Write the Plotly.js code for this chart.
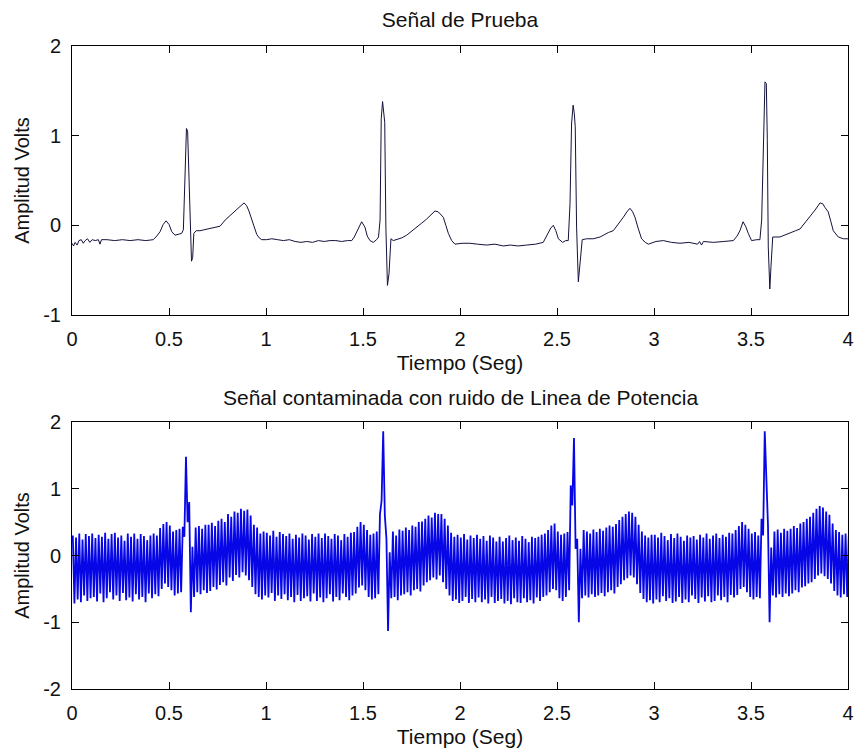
<!DOCTYPE html>
<html>
<head>
<meta charset="utf-8">
<script src="https://cdn.plot.ly/plotly-3.0.1.min.js"></script>
<style>html,body{margin:0;padding:0;background:#fff;}</style>
</head>
<body>
<div id="grafica" style="width:856px;height:752px;"></div>
<script>
// ---- Señal de Prueba (ECG) : tiempo (s) y amplitud (V) ----
const tiempoPrueba = [
0.000,0.008,0.016,0.026,0.036,0.048,0.058,0.068,0.080,0.092,0.104,0.120,0.136,0.144,0.152,0.180,0.220,0.260,0.300,0.340,0.380,
0.419,0.437,0.454,0.470,0.485,0.500,0.514,0.531,0.548,0.565,0.574,0.577,0.584,0.590,0.596,0.600,0.606,0.611,0.616,0.622,0.628,
0.640,0.660,0.680,0.700,0.720,0.740,0.763,0.790,0.814,0.840,0.866,0.887,0.900,0.912,0.926,0.940,0.952,0.965,0.978,
1.003,1.030,1.060,1.090,1.120,1.150,1.180,1.210,1.240,1.270,1.300,1.330,1.360,1.390,1.420,
1.442,1.455,1.471,1.493,1.510,1.522,1.536,1.553,1.570,1.580,1.588,1.594,1.601,1.606,1.612,1.618,1.626,1.634,1.644,1.656,
1.673,1.700,1.725,1.750,1.777,1.800,1.828,1.854,1.871,1.888,1.902,1.914,1.927,1.940,1.957,1.974,
2.010,2.051,2.090,2.137,2.180,2.223,2.260,2.300,2.343,2.390,2.429,
2.455,2.468,2.481,2.494,2.507,2.529,2.545,2.558,2.567,2.575,2.583,2.589,2.594,2.601,2.610,2.618,2.630,2.653,
2.687,2.722,2.739,2.765,2.790,2.815,2.842,2.860,2.876,2.890,2.902,2.918,2.936,2.955,2.971,
3.010,3.048,3.090,3.134,3.180,3.225,3.235,3.245,3.255,3.306,3.360,3.409,
3.428,3.443,3.459,3.472,3.486,3.503,3.530,3.546,3.555,3.564,3.572,3.579,3.584,3.589,3.597,3.603,3.612,
3.649,3.675,3.701,3.730,3.753,3.780,3.804,3.830,3.856,3.870,3.881,3.898,3.912,3.924,3.950,3.976,4.000
];
const senalPrueba = [
-0.20,-0.23,-0.19,-0.22,-0.17,-0.16,-0.20,-0.17,-0.15,-0.19,-0.16,-0.17,-0.16,-0.21,-0.16,-0.16,-0.17,-0.16,-0.17,-0.16,-0.17,
-0.16,-0.12,-0.07,0.01,0.05,0.01,-0.07,-0.11,-0.10,-0.09,-0.05,0.19,0.72,1.08,1.05,0.72,0.30,-0.10,-0.40,-0.36,-0.09,
-0.06,-0.06,-0.05,-0.04,-0.03,-0.02,-0.01,0.06,0.11,0.16,0.21,0.25,0.22,0.16,0.06,-0.04,-0.10,-0.14,-0.16,
-0.16,-0.15,-0.16,-0.17,-0.16,-0.18,-0.19,-0.18,-0.19,-0.17,-0.18,-0.17,-0.17,-0.18,-0.17,
-0.17,-0.13,-0.05,0.04,-0.02,-0.12,-0.17,-0.19,-0.16,-0.13,0.06,1.19,1.38,1.30,1.15,-0.02,-0.67,-0.54,-0.15,-0.17,
-0.16,-0.14,-0.11,-0.07,-0.02,0.02,0.07,0.12,0.16,0.15,0.12,0.09,0.00,-0.09,-0.17,-0.21,
-0.20,-0.20,-0.21,-0.22,-0.21,-0.23,-0.22,-0.23,-0.22,-0.21,-0.19,
-0.09,-0.03,0.00,-0.06,-0.15,-0.19,-0.17,-0.17,0.24,1.13,1.34,1.25,1.10,-0.02,-0.63,-0.46,-0.16,-0.15,
-0.15,-0.13,-0.11,-0.08,-0.06,0.01,0.09,0.15,0.19,0.15,0.09,-0.03,-0.15,-0.19,-0.21,
-0.18,-0.17,-0.19,-0.20,-0.19,-0.21,-0.18,-0.22,-0.18,-0.19,-0.18,-0.17,
-0.12,-0.06,0.04,-0.01,-0.09,-0.17,-0.16,-0.16,0.06,0.87,1.60,1.58,0.95,-0.24,-0.71,-0.46,-0.13,
-0.13,-0.11,-0.09,-0.06,-0.04,0.03,0.09,0.17,0.25,0.24,0.20,0.15,0.04,-0.06,-0.13,-0.15,-0.15
];

const frecuenciaRed = 60;
const picosSuperiores = [
0.30,0.27,0.33,0.24,0.32,0.29, 0.33,0.26,0.31,0.28,0.34,0.25, 0.32,0.34,0.27,0.30,0.22,0.33, 0.28,0.33,0.25,0.32,0.29,0.23,
0.30,0.33,0.30,0.41,0.47,0.50, 0.45,0.36,0.38,0.40,0.43,1.48, 0.80,0.13,0.42,0.44,0.40,0.46, 0.46,0.49,0.44,0.52,0.55,0.50,
0.62,0.58,0.66,0.64,0.70,0.67, 0.69,0.60,0.46,0.42,0.33,0.36, 0.34,0.30,0.37,0.28,0.35,0.32, 0.29,0.33,0.25,0.31,0.27,0.33,
0.30,0.24,0.32,0.28,0.33,0.26, 0.33,0.29,0.25,0.32,0.30,0.23, 0.32,0.28,0.34,0.35,0.43,0.50, 0.46,0.38,0.31,0.33,0.36,0.62,
1.86,0.25,0.05,0.36,0.30,0.39, 0.37,0.42,0.38,0.45,0.43,0.50, 0.51,0.55,0.60,0.57,0.64,0.62, 0.62,0.55,0.45,0.34,0.28,0.31,
0.27,0.32,0.24,0.30,0.26,0.31, 0.25,0.29,0.22,0.30,0.27,0.21, 0.28,0.21,0.26,0.30,0.23,0.27, 0.22,0.29,0.25,0.20,0.28,0.26,
0.28,0.31,0.33,0.38,0.45,0.48, 0.36,0.31,0.33,0.35,1.05,1.76, 0.25,0.10,0.38,0.36,0.33,0.39, 0.35,0.40,0.37,0.42,0.45,0.43,
0.47,0.53,0.58,0.62,0.66,0.64, 0.58,0.46,0.36,0.30,0.27,0.31, 0.31,0.27,0.34,0.29,0.23,0.32, 0.26,0.33,0.28,0.22,0.30,0.27,
0.29,0.24,0.31,0.27,0.33,0.25, 0.30,0.33,0.26,0.31,0.28,0.34, 0.33,0.38,0.44,0.50,0.46,0.40, 0.33,0.35,0.30,0.55,1.86,0.45,
0.12,0.36,0.39,0.34,0.40,0.37, 0.40,0.44,0.41,0.48,0.50,0.55, 0.58,0.64,0.70,0.74,0.72,0.66, 0.61,0.48,0.38,0.35,0.31,0.33,
0.30
];
const picosInferiores = [
-0.72,-0.66,-0.70,-0.60,-0.68,-0.64, -0.62,-0.69,-0.57,-0.70,-0.64,-0.55, -0.66,-0.60,-0.68,-0.56,-0.67,-0.63, -0.69,-0.58,-0.66,-0.62,-0.70,-0.57,
-0.64,-0.58,-0.61,-0.50,-0.42,-0.47, -0.52,-0.60,-0.57,-0.55,0.28,0.50, -0.85,-0.62,-0.55,-0.58,-0.52,-0.56, -0.53,-0.47,-0.51,-0.44,-0.40,-0.45,
-0.33,-0.38,-0.29,-0.33,-0.25,-0.30, -0.37,-0.47,-0.58,-0.62,-0.66,-0.60, -0.63,-0.56,-0.68,-0.60,-0.65,-0.58, -0.67,-0.62,-0.70,-0.59,-0.68,-0.64,
-0.61,-0.69,-0.57,-0.68,-0.63,-0.70, -0.64,-0.58,-0.69,-0.62,-0.67,-0.57, -0.62,-0.67,-0.60,-0.57,-0.48,-0.45, -0.52,-0.62,-0.66,-0.64,-0.58,0.82,
0.60,-1.13,-0.64,-0.62,-0.67,-0.60, -0.58,-0.55,-0.60,-0.52,-0.50,-0.54, -0.45,-0.40,-0.37,-0.33,-0.36,-0.30, -0.40,-0.50,-0.60,-0.68,-0.66,-0.71,
-0.68,-0.62,-0.71,-0.65,-0.70,-0.63, -0.70,-0.66,-0.72,-0.62,-0.71,-0.68, -0.65,-0.72,-0.68,-0.73,-0.64,-0.70, -0.71,-0.64,-0.70,-0.67,-0.72,-0.63,
-0.68,-0.62,-0.60,-0.55,-0.50,-0.52, -0.64,-0.68,-0.62,-0.52,0.75,0.10, -1.00,-0.64,-0.60,-0.63,-0.58,-0.62, -0.60,-0.56,-0.61,-0.55,-0.52,-0.57,
-0.47,-0.43,-0.37,-0.34,-0.30,-0.33, -0.43,-0.56,-0.65,-0.70,-0.67,-0.72, -0.66,-0.70,-0.61,-0.68,-0.64,-0.71, -0.69,-0.62,-0.71,-0.66,-0.70,-0.60,
-0.65,-0.71,-0.63,-0.69,-0.61,-0.70, -0.68,-0.60,-0.67,-0.62,-0.70,-0.59, -0.63,-0.59,-0.50,-0.47,-0.55,-0.62, -0.66,-0.62,-0.64,0.30,1.08,-1.00,
-0.60,-0.63,-0.58,-0.62,-0.57,-0.61, -0.57,-0.52,-0.55,-0.48,-0.46,-0.42, -0.40,-0.35,-0.30,-0.27,-0.31,-0.35, -0.42,-0.53,-0.60,-0.63,-0.58,-0.62
];

// ---- Ejes ----
const ticksTiempo = [0,0.5,1,1.5,2,2.5,3,3.5,4];
const etiquetasTiempo = ['0','0.5','1','1.5','2','2.5','3','3.5','4'];
const ticksPrueba = [-1,0,1,2];
const etiquetasPrueba = ['-1','0','1','2'];
const ticksContaminada = [-2,-1,0,1,2];
const etiquetasContaminada = ['-2','-1','0','1','2'];

// Each mains cycle: its maximum a quarter period in, its minimum three quarters in.
const tiempoContaminada = [];
const senalContaminada = [];
for (let i = 0; i < picosSuperiores.length; i++) {
  tiempoContaminada.push((i + 0.25) / frecuenciaRed);
  senalContaminada.push(picosSuperiores[i]);
  if (i < picosInferiores.length) {
    tiempoContaminada.push((i + 0.75) / frecuenciaRed);
    senalContaminada.push(picosInferiores[i]);
  }
}

const FUENTE = 'Liberation Sans, Arial, Helvetica, sans-serif';
const W = 856, H = 752;
const xDom = [72 / W, 848 / W];

function eje(extra) {
  return Object.assign({
    showline: true, linecolor: '#000', linewidth: 1, mirror: 'ticks',
    ticks: 'inside', ticklen: 7, tickwidth: 1, tickcolor: '#000',
    showgrid: false, zeroline: false, automargin: false,
    tickfont: {family: FUENTE, size: 20, color: '#111'},
    ticklabelstandoff: 6
  }, extra);
}

const trazas = [
  {x: tiempoPrueba, y: senalPrueba, type: 'scatter', mode: 'lines',
   line: {color: '#12123c', width: 1}, xaxis: 'x', yaxis: 'y', hoverinfo: 'x+y', name: 'Señal de Prueba'},
  {x: tiempoContaminada, y: senalContaminada, type: 'scatter', mode: 'lines',
   line: {color: '#0606e6', width: 1.8}, xaxis: 'x2', yaxis: 'y2', hoverinfo: 'x+y', name: 'Señal contaminada'}
];

const layout = {
  width: W, height: H,
  margin: {l: 0, r: 0, t: 0, b: 0},
  paper_bgcolor: '#fff', plot_bgcolor: '#fff',
  showlegend: false,
  font: {family: FUENTE, color: '#111'},
  title: {text: 'Señal de Prueba', x: 460 / W, xanchor: 'center', xref: 'paper',
          y: 1 - 20 / H, yanchor: 'middle', yref: 'container', font: {family: FUENTE, size: 21, color: '#111'}},
  xaxis: eje({domain: xDom, range: [0, 4], tickvals: ticksTiempo, ticktext: etiquetasTiempo, anchor: 'y',
              title: {text: 'Tiempo (Seg)', font: {family: FUENTE, size: 21, color: '#111'}, standoff: 6}}),
  yaxis: eje({domain: [1 - 315 / H, 1 - 46 / H], range: [-1, 2], tickvals: ticksPrueba, ticktext: etiquetasPrueba, anchor: 'x',
              title: {text: 'Amplitud Volts', font: {family: FUENTE, size: 20, color: '#111'}, standoff: 8}}),
  xaxis2: eje({domain: xDom, range: [0, 4], tickvals: ticksTiempo, ticktext: etiquetasTiempo, anchor: 'y2',
              title: {text: 'Tiempo (Seg)', font: {family: FUENTE, size: 21, color: '#111'}, standoff: 6}}),
  yaxis2: eje({domain: [1 - 689 / H, 1 - 422 / H], range: [-2, 2], tickvals: ticksContaminada, ticktext: etiquetasContaminada, anchor: 'x2',
              title: {text: 'Amplitud Volts', font: {family: FUENTE, size: 20, color: '#111'}, standoff: 8}}),
  annotations: [
    {text: 'Señal contaminada con ruido de Linea de Potencia', xref: 'paper', yref: 'paper',
     x: 460 / W, y: 1 - 397 / H, xanchor: 'center', yanchor: 'middle', showarrow: false,
     font: {family: FUENTE, size: 21, color: '#111'}}
  ]
};

Plotly.newPlot('grafica', trazas, layout, {displayModeBar: false, staticPlot: true});
</script>
</body>
</html>
